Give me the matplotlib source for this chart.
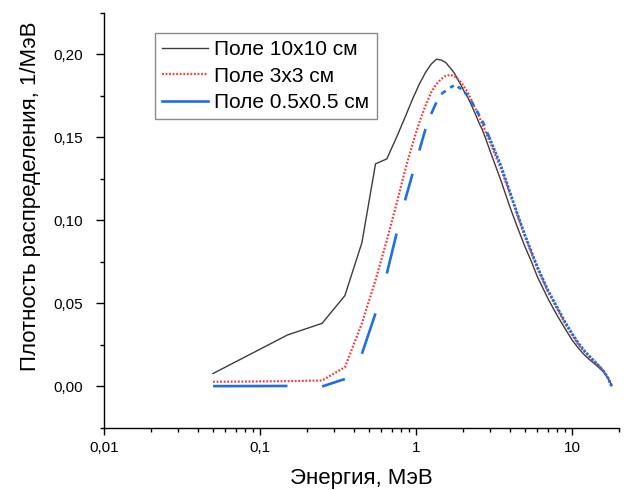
import matplotlib
matplotlib.use("Agg")
import matplotlib.pyplot as plt
from matplotlib.ticker import FixedLocator, LogLocator, MultipleLocator, FuncFormatter, NullFormatter
from matplotlib.lines import Line2D
import numpy as np

plt.rcParams['font.family'] = ['Liberation Sans', 'DejaVu Sans']
plt.rcParams['xtick.major.pad'] = 4
plt.rcParams['ytick.major.pad'] = 9
plt.rcParams['xtick.major.size'] = 5
plt.rcParams['ytick.major.size'] = 6
plt.rcParams['xtick.minor.size'] = 2.8
plt.rcParams['ytick.minor.size'] = 2.8
plt.rcParams['xtick.labelsize'] = 11
plt.rcParams['ytick.labelsize'] = 11

# Energy bin centres, MeV (fine part, 0.1 MeV bins)
energy_fine = [0.05, 0.15, 0.25, 0.35, 0.45, 0.55, 0.65, 0.75, 0.85, 0.95,
               1.05, 1.15, 1.25, 1.35, 1.45, 1.55, 1.65, 1.75, 1.85, 1.95,
               2.05, 2.15, 2.25, 2.35, 2.45, 2.55, 2.65, 2.75, 2.85, 2.95]
# Tail part (read at coarser energies)
energy_tail = [3.5, 4.0, 4.5, 5.0, 5.5, 6.0, 7.0, 8.0, 9.0, 10.0,
               11.0, 12.0, 13.0, 14.0, 15.0, 16.0, 17.0, 17.95]

field10_fine = [0.0078, 0.031, 0.038, 0.0547, 0.0866, 0.134, 0.137, 0.150, 0.162, 0.173,
                0.182, 0.189, 0.194, 0.197, 0.1965, 0.195, 0.192, 0.189, 0.185, 0.181,
                0.177, 0.174, 0.170, 0.166, 0.162, 0.158, 0.155, 0.151, 0.147, 0.143]
field10_tail = [0.124, 0.108, 0.095, 0.084, 0.075, 0.066, 0.053, 0.043, 0.035, 0.028,
                0.023, 0.019, 0.016, 0.0135, 0.011, 0.0085, 0.005, 0.0005]

field3_fine = [0.0028, 0.0032, 0.0036, 0.0116, 0.038, 0.064, 0.088, 0.110, 0.130, 0.146,
               0.159, 0.169, 0.177, 0.182, 0.185, 0.187, 0.1875, 0.187, 0.185, 0.183,
               0.180, 0.177, 0.173, 0.169, 0.166, 0.162, 0.158, 0.155, 0.151, 0.148]
field3_tail = [0.131, 0.116, 0.102, 0.090, 0.080, 0.071, 0.057, 0.047, 0.038, 0.031,
               0.025, 0.021, 0.0175, 0.0145, 0.012, 0.009, 0.0055, 0.0008]

field05_fine = [0.0002, 0.0003, 0.0, 0.0045, 0.0197, 0.044, 0.068, 0.092, 0.112, 0.128,
                0.142, 0.155, 0.164, 0.171, 0.176, 0.178, 0.180, 0.181, 0.1805, 0.179,
                0.177, 0.175, 0.172, 0.169, 0.166, 0.163, 0.160, 0.157, 0.153, 0.150]
field05_tail = [0.133, 0.117, 0.103, 0.091, 0.081, 0.072, 0.058, 0.048, 0.039, 0.032,
                0.026, 0.0215, 0.018, 0.015, 0.012, 0.009, 0.005, 0.0]

labels = ["Поле 10x10 см", "Поле 3x3 см", "Поле 0.5x0.5 см"]
x_ticks = [0.01, 0.1, 1, 10]
x_ticklabels = ["0,01", "0,1", "1", "10"]
y_ticks = [0.00, 0.05, 0.10, 0.15, 0.20]

c_black = '#3c3c3c'
c_red = '#f23a3a'
c_blue = '#1f6fe0'

fig = plt.figure(figsize=(6.24, 4.90), dpi=100)
ax = fig.add_axes([104/624, 1 - 428/490, 515/624, (428 - 12.7)/490])

E_all = energy_fine + energy_tail
ax.plot(E_all, field10_fine + field10_tail, color=c_black, lw=1.0, zorder=3)
ax.plot(E_all, field3_fine + field3_tail, color=c_red, lw=1.6,
        linestyle=(0, (0.8, 0.8)), zorder=4)
# blue: alternating segments in the fine part (as in the original rendering)
for k in range(0, len(energy_fine) - 1, 2):
    ax.plot(energy_fine[k:k + 2], field05_fine[k:k + 2], color=c_blue, lw=1.9,
            solid_capstyle='butt', zorder=5)
ax.plot(energy_fine[-1:] + energy_tail, field05_fine[-1:] + field05_tail, color=c_blue,
        lw=1.9, linestyle=(0, (1.0, 0.5)), zorder=5)

ax.set_xscale('log')
ax.set_xlim(0.01, 20)
ax.set_ylim(-0.025, 0.225)

ax.xaxis.set_major_locator(FixedLocator(x_ticks))
ax.set_xticklabels(x_ticklabels)
ax.xaxis.set_minor_locator(LogLocator(base=10, subs=np.arange(2, 10)))
ax.xaxis.set_minor_formatter(NullFormatter())
ax.yaxis.set_major_locator(FixedLocator(y_ticks))
ax.yaxis.set_major_formatter(FuncFormatter(lambda v, p: f"{v:.2f}".replace('.', ',')))
ax.yaxis.set_minor_locator(MultipleLocator(0.025))

for s in ['top', 'right']:
    ax.spines[s].set_visible(False)
for s in ['left', 'bottom']:
    ax.spines[s].set_linewidth(1.0)
ax.tick_params(which='both', direction='out', width=1.0)

ax.set_xlabel("Энергия, МэВ", fontsize=16)
ax.set_ylabel("Плотность распределения, 1/МэВ", fontsize=16)
ax.xaxis.set_label_coords(0.5, -0.097)
ax.yaxis.set_label_coords(-0.122, 0.558)

handles = [Line2D([], [], color=c_black, lw=1.0),
           Line2D([], [], color=c_red, lw=1.6, linestyle=(0, (0.8, 0.8))),
           Line2D([], [], color=c_blue, lw=1.9)]
leg = ax.legend(handles, labels, loc='upper left', bbox_to_anchor=((155 - 104)/515, (428 - 33)/415.3),
                borderaxespad=0, fontsize=15, frameon=True, fancybox=False,
                edgecolor='#8a8a8a', framealpha=1, borderpad=0.35, labelspacing=0.35,
                handlelength=2.2, handletextpad=0.3)
leg.get_frame().set_linewidth(1.0)

fig.savefig("out.png", dpi=100)
